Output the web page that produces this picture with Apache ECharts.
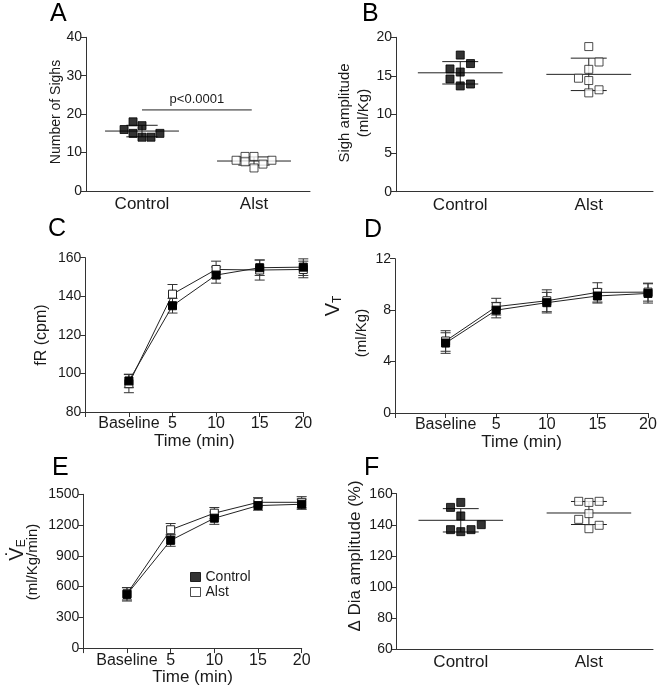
<!DOCTYPE html>
<html><head><meta charset="utf-8">
<script src="https://cdn.jsdelivr.net/npm/echarts@6/dist/echarts.min.js"></script>
<style>html,body{margin:0;padding:0;background:#fff}#c{width:660px;height:687px}</style>
</head><body><div id="c"></div>
<script>
// ---------- data ----------
const groups = ['Control', 'Alst'];
const timeLabels = ['Baseline', '5', '10', '15', '20'];

// A: number of sighs
const sighsControl = [16, 18, 17, 15, 14, 14, 15];
const sighsControlSlot = [-2, -1, 0, -1, 0, 1, 2];
const sighsAlst = [8, 9, 9, 7.6, 6, 7, 8];
const sighsAlstSlot = [-2, -1, 0, -1, 0, 1, 2];
const sighsMean = [15.6, 7.8];
const sighsSD = [1.5, 1.07];
const sighsTicks = [0, 10, 20, 30, 40];
const pValueText = 'p<0.0001';
const pValueLevel = 21.1;

// B: sigh amplitude
const ampControl = [17.7, 16.6, 15.9, 15.5, 14.6, 13.7, 13.95];
const ampControlSlot = [0, 1, -1, 0, -1, 0, 1];
const ampAlst = [18.8, 16.8, 15.85, 14.7, 14.4, 13.2, 12.8];
const ampAlstSlot = [0, 1, 0, -1, 0, 1, 0];
const ampMean = [15.4, 15.2];
const ampSD = [1.45, 2.1];
const ampTicks = [0, 5, 10, 15, 20];

// C: fR
const fRControl = [96.1, 135.1, 151.0, 154.8, 155.1];
const fRControlErr = [3.5, 3.8, 4.2, 4.0, 4.3];
const fRAlst = [94.7, 141.1, 153.9, 153.6, 153.9];
const fRAlstErr = [4.7, 5.0, 4.3, 5.2, 4.3];
const fRTicks = [80, 100, 120, 140, 160];

// D: VT
const vtControl = [5.44, 8.0, 8.58, 9.1, 9.3];
const vtControlErr = [0.8, 0.6, 0.8, 0.55, 0.75];
const vtAlst = [5.6, 8.27, 8.73, 9.38, 9.4];
const vtAlstErr = [0.8, 0.65, 0.85, 0.75, 0.7];
const vtTicks = [0, 4, 8, 12];

// E: VE
const veControl = [524, 1051, 1267, 1390, 1403];
const veControlErr = [65, 58, 60, 45, 50];
const veAlst = [530, 1154, 1316, 1422, 1422];
const veAlstErr = [60, 61, 55, 45, 55];
const veTicks = [0, 300, 600, 900, 1200, 1500];

// F: delta Dia amplitude
const diaControl = [154.4, 151.2, 145.7, 140.1, 136.9, 136.9, 135.6];
const diaControlSlot = [0, -1, 0, 2, -1, 1, 0];
const diaAlst = [155.1, 154.4, 155.1, 147.2, 143.5, 139.7, 137.5];
const diaAlstSlot = [-1, 0, 1, 0, -1, 1, 0];
const diaMean = [142.9, 147.6];
const diaSD = [7.5, 7.4];
const diaTicks = [60, 80, 100, 120, 140, 160];

// ---------- styling ----------
const FONT = 'Liberation Sans';
const INK = '#1a1a1a';
const AXIS = '#333';
const SLOT_W = 0.08, MEAN_HALF = 0.33, CAP_HALF = 0.14, EB_CAP = 5;
const filled = { color: '#000', borderColor: '#000', borderWidth: 1 };
const open = { color: '#fff', borderColor: '#222', borderWidth: 1 };

const grids = [], xAxes = [], yAxes = [], series = [];

function yAxisFor(g, ticks) {
  return {
    type: 'value', gridIndex: g, min: ticks[0], max: ticks[ticks.length - 1],
    interval: ticks[1] - ticks[0],
    axisLine: { show: true, onZero: false, lineStyle: { color: AXIS, width: 1 } },
    axisTick: { show: true, length: 5, lineStyle: { color: AXIS } },
    axisLabel: { color: INK, fontFamily: FONT, fontSize: 14, margin: 4, formatter: v => String(v) },
    splitLine: { show: false }
  };
}

function scatterPanel(box, ticks, ctrl, ctrlSlot, alst, alstSlot, mean, sd) {
  const g = grids.length;
  grids.push({ left: box[0], top: box[1], width: box[2], height: box[3], containLabel: false });
  xAxes.push({
    type: 'category', gridIndex: g, data: groups, boundaryGap: true,
    axisLine: { onZero: false, lineStyle: { color: AXIS } },
    axisTick: { alignWithLabel: true, length: 5, lineStyle: { color: AXIS } },
    axisLabel: { color: INK, fontFamily: FONT, fontSize: 17, margin: 5 }
  });
  const valIdx = xAxes.length;
  xAxes.push({ type: 'value', gridIndex: g, min: 0, max: 2, show: false });
  const yi = yAxes.length;
  yAxes.push(yAxisFor(g, ticks));
  series.push({
    type: 'scatter', name: 'Control', xAxisIndex: valIdx, yAxisIndex: yi,
    symbol: 'rect', symbolSize: 8, itemStyle: filled, z: 3,
    data: ctrl.map((v, k) => [0.5 + ctrlSlot[k] * SLOT_W, v])
  });
  series.push({
    type: 'scatter', name: 'Alst', xAxisIndex: valIdx, yAxisIndex: yi,
    symbol: 'rect', symbolSize: 8, itemStyle: open, z: 3,
    data: alst.map((v, k) => [1.5 + alstSlot[k] * SLOT_W, v])
  });
  series.push({
    type: 'custom', xAxisIndex: valIdx, yAxisIndex: yi, z: 2, silent: true,
    data: mean.map((m, k) => [k + 0.5, m, sd[k]]),
    encode: { x: 0, y: 1 },
    renderItem: function (params, api) {
      const c = api.value(0), m = api.value(1), s = api.value(2);
      const st = { stroke: '#222', lineWidth: 1 };
      const L = (x1, y1, x2, y2) => {
        const a = api.coord([x1, y1]), b = api.coord([x2, y2]);
        return { type: 'line', shape: { x1: a[0], y1: a[1], x2: b[0], y2: b[1] }, style: st };
      };
      return {
        type: 'group', children: [
          L(c - MEAN_HALF, m, c + MEAN_HALF, m),
          L(c, m - s, c, m + s),
          L(c - CAP_HALF, m + s, c + CAP_HALF, m + s),
          L(c - CAP_HALF, m - s, c + CAP_HALF, m - s)
        ]
      };
    }
  });
  return { g, valIdx, yi };
}

function errSeries(xi, yi, vals, errs) {
  return {
    type: 'custom', xAxisIndex: xi, yAxisIndex: yi, z: 2, silent: true,
    data: vals.map((v, k) => [k, v, errs[k]]),
    encode: { x: 0, y: 1 },
    renderItem: function (params, api) {
      const x = api.value(0), v = api.value(1), e = api.value(2);
      const top = api.coord([x, v + e]), bot = api.coord([x, v - e]);
      const st = { stroke: '#333', lineWidth: 1 };
      return {
        type: 'group', children: [
          { type: 'line', shape: { x1: top[0], y1: top[1], x2: bot[0], y2: bot[1] }, style: st },
          { type: 'line', shape: { x1: top[0] - EB_CAP, y1: top[1], x2: top[0] + EB_CAP, y2: top[1] }, style: st },
          { type: 'line', shape: { x1: bot[0] - EB_CAP, y1: bot[1], x2: bot[0] + EB_CAP, y2: bot[1] }, style: st }
        ]
      };
    }
  };
}

function linePanel(box, ticks, ctrl, ctrlErr, alst, alstErr) {
  const g = grids.length;
  grids.push({ left: box[0], top: box[1], width: box[2], height: box[3], containLabel: false });
  const xi = xAxes.length;
  xAxes.push({
    type: 'value', gridIndex: g, min: -1, max: timeLabels.length - 1, interval: 1,
    name: 'Time (min)', nameLocation: 'middle', nameGap: 18,
    nameTextStyle: { color: INK, fontFamily: FONT, fontSize: 17 },
    axisLine: { onZero: false, lineStyle: { color: AXIS } },
    axisTick: { length: 5, lineStyle: { color: AXIS } },
    axisLabel: {
      color: INK, fontFamily: FONT, fontSize: 16, margin: 4, showMinLabel: true, showMaxLabel: true,
      formatter: v => (timeLabels[Math.round(v)] !== undefined && v >= 0 ? timeLabels[Math.round(v)] : '')
    },
    splitLine: { show: false }
  });
  const yi = yAxes.length;
  yAxes.push(yAxisFor(g, ticks));
  series.push(errSeries(xi, yi, alst, alstErr));
  series.push({
    type: 'line', name: 'Alst', xAxisIndex: xi, yAxisIndex: yi, z: 3,
    symbol: 'rect', symbolSize: 8, showAllSymbol: true, itemStyle: open,
    lineStyle: { color: '#222', width: 1 },
    data: alst.map((v, k) => [k, v])
  });
  series.push(errSeries(xi, yi, ctrl, ctrlErr));
  series.push({
    type: 'line', name: 'Control', xAxisIndex: xi, yAxisIndex: yi, z: 4,
    symbol: 'rect', symbolSize: 8, showAllSymbol: true, itemStyle: filled,
    lineStyle: { color: '#222', width: 1 },
    data: ctrl.map((v, k) => [k, v])
  });
  return { g, xi, yi };
}

const A = scatterPanel([86, 37.3, 224, 153.7], sighsTicks, sighsControl, sighsControlSlot, sighsAlst, sighsAlstSlot, sighsMean, sighsSD);
// significance bracket for A
series.push({
  type: 'custom', xAxisIndex: A.valIdx, yAxisIndex: A.yi, silent: true, z: 2,
  data: [[0.5, 1.48, pValueLevel]],
  encode: { x: 0, y: 2 },
  renderItem: function (params, api) {
    const a = api.coord([api.value(0), api.value(2)]), b = api.coord([api.value(1), api.value(2)]);
    return {
      type: 'group', children: [
        { type: 'line', shape: { x1: a[0], y1: a[1], x2: b[0], y2: b[1] }, style: { stroke: '#222', lineWidth: 1 } },
        { type: 'text', x: (a[0] + b[0]) / 2, y: a[1] - 4,
          style: { text: pValueText, fill: INK, font: '13px "' + FONT + '"', align: 'center', verticalAlign: 'bottom' } }
      ]
    };
  }
});
scatterPanel([396, 37.3, 257, 154.4], ampTicks, ampControl, ampControlSlot, ampAlst, ampAlstSlot, ampMean, ampSD);
linePanel([85.3, 257.7, 218, 154.3], fRTicks, fRControl, fRControlErr, fRAlst, fRAlstErr);
linePanel([395, 258.7, 253, 154.3], vtTicks, vtControl, vtControlErr, vtAlst, vtAlstErr);
linePanel([83.3, 494.3, 218.4, 154.7], veTicks, veControl, veControlErr, veAlst, veAlstErr);
scatterPanel([396.7, 493.7, 256.3, 155.6], diaTicks, diaControl, diaControlSlot, diaAlst, diaAlstSlot, diaMean, diaSD);

// ---------- texts ----------
function letter(t, x, y) {
  return { type: 'text', x: x, y: y, style: { text: t, fill: '#000', font: '25px "' + FONT + '"', align: 'left', verticalAlign: 'middle' } };
}
function vtext(x, y, text, size, rich) {
  const s = { text: text, fill: INK, font: size + 'px "' + FONT + '"', align: 'center', verticalAlign: 'middle' };
  if (rich) s.rich = rich;
  return { type: 'text', x: x, y: y, rotation: Math.PI / 2, style: s };
}
const graphic = [
  letter('A', 50, 14), letter('B', 362, 14), letter('C', 48, 229), letter('D', 364, 230),
  letter('E', 52, 468), letter('F', 364, 468),
  vtext(56, 112, 'Number of Sighs', 14),
  vtext(345, 113, 'Sigh amplitude', 15),
  vtext(364, 113, '(ml/Kg)', 15),
  vtext(42, 335, 'fR (cpm)', 16),
  vtext(333, 306, '{v|V}{s|T}', 18, {
    v: { fontSize: 20, fontFamily: FONT, fill: INK },
    s: { fontSize: 12, fontFamily: FONT, fill: INK, padding: [10, 0, 0, 0] }
  }),
  vtext(362, 333, '(ml/Kg)', 15),
  vtext(17, 550, '{v|V\u0307}{s|E}', 18, {
    v: { fontSize: 20, fontFamily: FONT, fill: INK },
    s: { fontSize: 12, fontFamily: FONT, fill: INK, padding: [10, 0, 0, 0] }
  }),
  vtext(33, 562, '(ml/Kg/min)', 15),
  vtext(355, 556, '\u0394 Dia amplitude (%)', 17)
];

const chart = echarts.init(document.getElementById('c'), null, { renderer: 'canvas' });
chart.setOption({
  animation: false,
  backgroundColor: '#fff',
  grid: grids, xAxis: xAxes, yAxis: yAxes, series: series,
  legend: {
    show: true, selectedMode: false, orient: 'vertical', left: 185, top: 565,
    itemWidth: 10, itemHeight: 9, itemGap: 1,
    textStyle: { color: INK, fontFamily: FONT, fontSize: 14, lineHeight: 13 },
    data: [
      { name: 'Control', icon: 'rect', itemStyle: { color: '#000', borderColor: '#000', borderWidth: 1 } },
      { name: 'Alst', icon: 'rect', itemStyle: { color: '#fff', borderColor: '#222', borderWidth: 1 } }
    ]
  },
  graphic: graphic
});
</script></body></html>
